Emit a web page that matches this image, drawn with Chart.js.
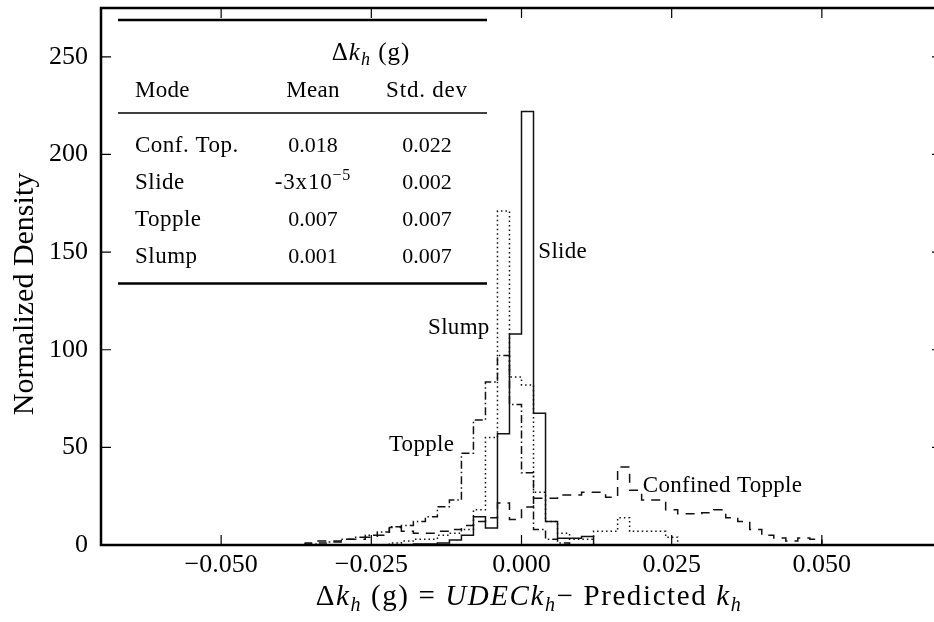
<!DOCTYPE html>
<html>
<head>
<meta charset="utf-8">
<script src="https://cdn.jsdelivr.net/npm/chart.js@4.4.1/dist/chart.umd.min.js"></script>
<style>
  html, body { margin: 0; padding: 0; background: #fff; overflow: hidden; }
  #wrap { width: 950px; height: 622px; }
</style>
</head>
<body>
<div id="wrap"><canvas id="chart" width="950" height="622"></canvas></div>
<script>
// histogram bins are 0.002 g wide, each series starts at its own left edge
const binWidth = 0.002;

const slideStart = -0.018;
const slideDensity = [0.5, 0.5, 1, 2.5, 5, 14.5, 8.7, 57, 108, 222, 67.5, 12, 3.5, 3.5, 4.3];

const slumpStart = -0.022;
const slumpDensity = [1, 2, 3, 3, 5, 6, 8, 18, 55, 171, 86, 82, 27, 12, 6, 3, 3, 7, 7, 14, 7, 7, 7, 4];

const toppleStart = -0.036;
const toppleDensity = [0.5, 1, 1.5, 3, 4, 5, 6.6, 9.4, 10, 12, 14.5, 19.6, 23, 47, 64, 83.5, 97, 72, 37, 8, 3, 1];

const confToppleStart = -0.036;
const confToppleDensity = [1, 2, 2, 3, 3, 4, 5, 9, 7, 6, 6, 7, 8, 10, 12, 14, 21.5, 13, 19.5, 24,
  24, 25.6, 25.6, 27, 27, 24.5, 40, 28, 23, 23, 18, 16, 16, 16.5, 18, 14, 12, 8, 5, 3.6, 2, 3.6, 3];

const xTicks = [-0.05, -0.025, 0, 0.025, 0.05];
const yTicks = [0, 50, 100, 150, 200, 250];

// curve labels, anchored in data coordinates
const curveLabels = ["Slide", "Slump", "Topple", "Confined Topple"];
const curveLabelX = [0.0028, -0.0053, -0.0112, 0.0202];
const curveLabelY = [147, 108, 48, 27];
const curveLabelAlign = ["left", "right", "right", "left"];

// summary table
const tableModes = ["Conf. Top.", "Slide", "Topple", "Slump"];
const tableMeans = ["0.018", "-3x10^-5", "0.007", "0.001"];
const tableStds = ["0.022", "0.002", "0.007", "0.007"];

const SERIF = '"Liberation Serif", "DejaVu Serif", serif';

function stepPoints(start, heights) {
  const pts = [{ x: start, y: 0 }];
  heights.forEach((h, i) => pts.push({ x: +(start + i * binWidth).toFixed(4), y: h }));
  pts.push({ x: +(start + heights.length * binWidth).toFixed(4), y: 0 });
  return pts;
}

function fmtX(v) {
  return (v < 0 ? "\u2212" : "") + Math.abs(v).toFixed(3);
}

// draw runs of text: [text, style] with style "", "it", "sub", "itsub", "sup"
function drawRuns(ctx, runs, x, y, size, align, spacing = 0) {
  let total = 0;
  ctx.letterSpacing = "0px";
  const parts = runs.map(([t, s]) => {
    const small = s.endsWith("sub") || s === "sup";
    const fs = small ? Math.round(size * 0.7) : size;
    const font = (s.startsWith("it") ? "italic " : "") + fs + "px " + SERIF;
    ctx.font = font;
    const w = ctx.measureText(t).width + spacing * t.length;
    total += w;
    return { t, s, font, w };
  });
  let cx = align === "center" ? x - total / 2 : align === "right" ? x - total : x;
  ctx.textAlign = "left";
  ctx.textBaseline = "alphabetic";
  ctx.letterSpacing = spacing + "px";
  parts.forEach(p => {
    ctx.font = p.font;
    let dy = 0;
    if (p.s.endsWith("sub")) dy = size * 0.2;
    if (p.s === "sup") dy = -size * 0.38;
    ctx.fillText(p.t, cx, y + dy);
    cx += p.w;
  });
  ctx.letterSpacing = "0px";
}

function meanRuns(str) {
  if (str.includes("^")) {
    const [base, exp] = str.split("^");
    return [[base, ""], [exp.replace("-", "\u2212"), "sup"]];
  }
  return [[str, ""]];
}

function noPadding(s) {
  s.paddingTop = 0;
  s.paddingBottom = 0;
  s.paddingLeft = 0;
  s.paddingRight = 0;
}

const framePlugin = {
  id: "frame",
  afterDraw(chart) {
    const { ctx, chartArea: a, scales: { x, y } } = chart;
    ctx.save();
    ctx.strokeStyle = "#000";
    ctx.fillStyle = "#000";

    // inward ticks on all four sides
    ctx.lineWidth = 1.2;
    ctx.beginPath();
    x.ticks.forEach(t => {
      const px = x.getPixelForValue(t.value);
      ctx.moveTo(px, a.bottom); ctx.lineTo(px, a.bottom - 10);
      ctx.moveTo(px, a.top); ctx.lineTo(px, a.top + 10);
    });
    y.ticks.forEach(t => {
      const py = y.getPixelForValue(t.value);
      ctx.moveTo(a.left, py); ctx.lineTo(a.left + 10, py);
      ctx.moveTo(a.right, py); ctx.lineTo(a.right - 10, py);
    });
    ctx.stroke();

    ctx.lineWidth = 2.5;
    ctx.strokeRect(a.left, a.top, a.right - a.left, a.bottom - a.top);

    // curve labels
    curveLabels.forEach((lab, i) => {
      drawRuns(ctx, [[lab, ""]], x.getPixelForValue(curveLabelX[i]),
        y.getPixelForValue(curveLabelY[i]), 23, curveLabelAlign[i], 0.3);
    });

    // table inset
    const L = a.left, T = a.top;
    ctx.lineWidth = 2.5;
    ctx.beginPath();
    ctx.moveTo(L + 17, T + 12); ctx.lineTo(L + 386, T + 12);
    ctx.moveTo(L + 17, T + 275.5); ctx.lineTo(L + 386, T + 275.5);
    ctx.stroke();
    ctx.lineWidth = 1.5;
    ctx.beginPath();
    ctx.moveTo(L + 17, T + 105); ctx.lineTo(L + 386, T + 105);
    ctx.stroke();

    drawRuns(ctx, [["\u0394", ""], ["k", "it"], ["h", "itsub"], [" (g)", ""]], L + 270, T + 52, 25, "center", 1);
    drawRuns(ctx, [["Mode", ""]], L + 34, T + 89, 23, "left", 0.3);
    drawRuns(ctx, [["Mean", ""]], L + 212, T + 89, 23, "center", 0.3);
    drawRuns(ctx, [["Std. dev", ""]], L + 326, T + 89, 23, "center", 0.8);
    tableModes.forEach((m, i) => {
      const by = T + 144 + i * 37;
      drawRuns(ctx, [[m, ""]], L + 34, by, 23, "left", 0.5);
      drawRuns(ctx, meanRuns(tableMeans[i]), L + 212, by, tableMeans[i].includes("^") ? 23 : 22, "center",
        tableMeans[i].includes("^") ? 0.8 : 0);
      drawRuns(ctx, [[tableStds[i], ""]], L + 326, by, 22, "center");
    });

    // axis titles
    drawRuns(ctx, [["\u0394", ""], ["k", "it"], ["h", "itsub"], [" (g) = ", ""], ["UDEC", "it"],
      ["k", "it"], ["h", "itsub"], ["\u2212 Predicted ", ""], ["k", "it"], ["h", "itsub"]],
      a.left + 428, 605, 29, "center", 1.6);

    ctx.save();
    ctx.translate(33, 294);
    ctx.rotate(-Math.PI / 2);
    drawRuns(ctx, [["Normalized Density", ""]], 0, 0, 30, "center");
    ctx.restore();

    ctx.restore();
  }
};

const tickFont = { family: SERIF, size: 26 };

new Chart(document.getElementById("chart").getContext("2d"), {
  type: "line",
  data: {
    datasets: [
      { label: "Slide", data: stepPoints(slideStart, slideDensity), borderDash: [] },
      { label: "Slump", data: stepPoints(slumpStart, slumpDensity), borderDash: [1.5, 3] },
      { label: "Topple", data: stepPoints(toppleStart, toppleDensity), borderDash: [8, 3, 1.5, 3] },
      { label: "Confined Topple", data: stepPoints(confToppleStart, confToppleDensity), borderDash: [9, 7] },
    ],
  },
  options: {
    responsive: false,
    animation: false,
    devicePixelRatio: 1,
    layout: { padding: { top: 8, right: 8, left: 0, bottom: 0 } },
    plugins: { legend: { display: false }, tooltip: { enabled: false } },
    elements: {
      point: { radius: 0 },
      line: { borderWidth: 1.5, borderColor: "#111", stepped: "before", fill: false, tension: 0 },
    },
    scales: {
      x: {
        type: "linear",
        min: -0.07,
        max: 0.07,
        grid: { display: false, drawTicks: false },
        border: { display: false },
        afterBuildTicks: s => { s.ticks = xTicks.map(v => ({ value: v })); },
        afterFit: s => { s.height = 77; noPadding(s); },
        ticks: { padding: 5, color: "#000", font: tickFont, autoSkip: false, maxRotation: 0, callback: v => fmtX(v) },
      },
      y: {
        type: "linear",
        min: 0,
        max: 275,
        grid: { display: false, drawTicks: false },
        border: { display: false },
        afterBuildTicks: s => { s.ticks = yTicks.map(v => ({ value: v })); },
        afterFit: s => { s.width = 101; noPadding(s); },
        ticks: { padding: 13, color: "#000", font: tickFont, autoSkip: false, callback: v => String(v) },
      },
    },
  },
  plugins: [framePlugin],
});
</script>
</body>
</html>
